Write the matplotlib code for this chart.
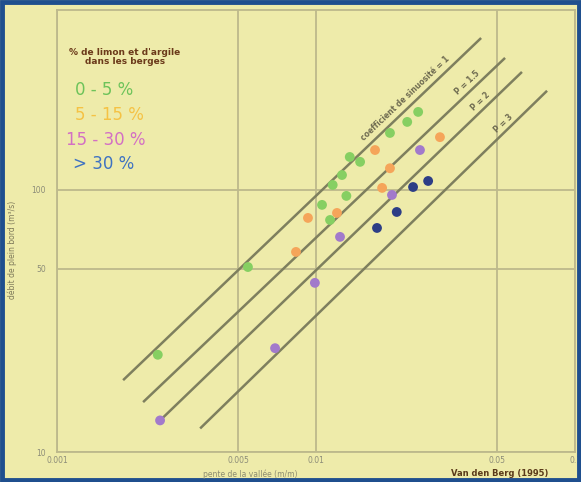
import matplotlib.pyplot as plt
import matplotlib.ticker as mticker
from matplotlib.patches import Rectangle

# --- données ---
x_ticks = [0.001, 0.005, 0.01, 0.05, 0.1]
x_tick_labels = ["0.001", "0.005", "0.01", "0.05", "0.1"]
y_ticks = [10, 50, 100, 500]
y_tick_labels = ["10", "50", "100", "500"]

# droites de sinuosité (extrémités)
lines_x = [[0.00180, 0.0434], [0.00215, 0.0537], [0.00250, 0.0624], [0.00357, 0.0780]]
lines_y = [[18.8, 380], [15.5, 319], [13.2, 282], [12.3, 239]]
line_labels = ["coefficient de sinuosité = 1", "P = 1.5", "P = 2", "P = 3"]
label_x = [0.0221, 0.0383, 0.0430, 0.0527]
label_y = [224, 256, 217, 180]

classes = ["0 - 5 %", "5 - 15 %", "15 - 30 %", "> 30 %"]

green_x = [0.0248, 0.0225, 0.0193, 0.0135, 0.0148, 0.0126, 0.0116, 0.0131, 0.01055, 0.01133, 0.00546, 0.00245]
green_y = [198.5, 181.8, 165, 133.6, 128, 114, 104.5, 94.9, 87.7, 76.8, 50.8, 23.5]
orange_x = [0.0169, 0.0193, 0.0180, 0.01205, 0.00931, 0.00837, 0.0301]
orange_y = [142, 121, 101.8, 81.7, 78.2, 58.0, 159]
purple_x = [0.0252, 0.01965, 0.01238, 0.0099, 0.00695, 0.0025]
purple_y = [142, 95.7, 66.2, 44.2, 24.9, 13.2]
blue_x = [0.0271, 0.0237, 0.0205, 0.0172]
blue_y = [108.2, 102.6, 82.4, 71.6]

bg = '#EEEBAA'
grid_col = '#BDB98C'
line_col = '#7E7F5E'

fig = plt.figure(figsize=(5.81, 4.82), dpi=100, facecolor=bg)
ax = fig.add_axes([57/581, 1-452/482, (575-57)/581, (452-10)/482])
ax.set_facecolor(bg)
ax.set_xscale('log')
ax.set_yscale('log')
ax.set_xlim(0.001, 0.1)
ax.set_ylim(10, 486)

ax.xaxis.set_major_locator(mticker.FixedLocator(x_ticks))
ax.xaxis.set_minor_locator(mticker.NullLocator())
ax.yaxis.set_major_locator(mticker.FixedLocator(y_ticks))
ax.yaxis.set_minor_locator(mticker.NullLocator())
ax.set_xticklabels(x_tick_labels)
ax.set_yticklabels(y_tick_labels)
ax.tick_params(axis='x', length=0, labelsize=5.5, labelcolor='#8C8C78', pad=3)
ax.tick_params(axis='y', length=0, labelsize=5.5, labelcolor='#8C8C78', pad=8)
ax.grid(True, color=grid_col, lw=1.3)
for s in ax.spines.values():
    s.set_color(grid_col)
    s.set_linewidth(1.3)

# droites
for lx, ly in zip(lines_x, lines_y):
    ax.plot(lx, ly, color=line_col, lw=1.8, solid_capstyle='butt', zorder=3)

# étiquettes des droites
for lx, ly, t in zip(label_x, label_y, line_labels):
    ax.text(lx, ly, t, rotation=43.5, rotation_mode='anchor', ha='center', va='center',
            fontsize=5.5, color='#6E6A50', fontweight='bold', zorder=4)

# points
ax.scatter(green_x, green_y, s=50, color='#86CF62', edgecolors='none', zorder=5)
ax.scatter(orange_x, orange_y, s=50, color='#F5A55A', edgecolors='none', zorder=5)
ax.scatter(purple_x, purple_y, s=50, color='#A27ACB', edgecolors='none', zorder=5)
ax.scatter(blue_x, blue_y, s=50, color='#2D3E86', edgecolors='none', zorder=5)

# légende en texte
fig.text(125/581, 1-57/482, "% de limon et d'argile\ndans les berges", ha='center', va='center',
         fontsize=6.5, fontweight='bold', color='#6B3A1A', linespacing=1.1)
leg_cols = ['#6DC35A', '#F5C244', '#D36FC4', '#3E72C2']
leg_pos = [(75, 90), (75, 115), (66, 140), (73, 164)]
for (px, py), t, c in zip(leg_pos, classes, leg_cols):
    fig.text(px/581, 1-py/482, t, ha='left', va='center', fontsize=12, color=c)

# titres des axes
fig.text(250/581, 1-474/482, "pente de la vallée (m/m)", ha='center', va='center',
         fontsize=5.5, color='#8C8C70')
fig.text(12/581, 1-250/482, "débit de plein bord (m³/s)", ha='center', va='center',
         rotation=90, fontsize=5.5, color='#7E7A5A')
fig.text(548/581, 1-474/482, "Van den Berg (1995)", ha='right', va='center',
         fontsize=6, fontweight='bold', color='#5A3A1A')

# cadre bleu
fig.patches.append(Rectangle((0.003, 0.004), 0.994, 0.992, transform=fig.transFigure,
                             fill=False, edgecolor='#1F4F8E', lw=3.5))

fig.savefig('out.png', dpi=100, facecolor=bg)
